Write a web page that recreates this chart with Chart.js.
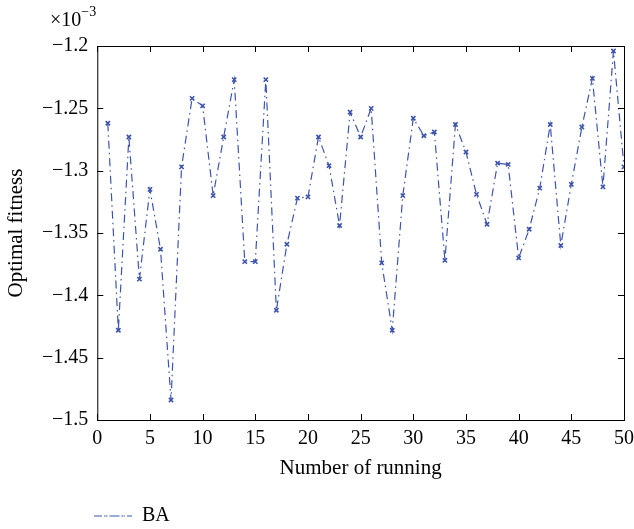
<!DOCTYPE html>
<html>
<head>
<meta charset="utf-8">
<script src="https://cdn.jsdelivr.net/npm/chart.js@4/dist/chart.umd.min.js"></script>
<style>
  html, body { margin: 0; padding: 0; background: #fff; }
  #wrap { width: 634px; height: 529px; }
</style>
</head>
<body>
<div id="wrap"><canvas id="fitnessChart"></canvas></div>
<script>
// runs 1..50
const runs = Array.from({ length: 50 }, (_, i) => i + 1);

// optimal fitness, in units of 1e-3
const baFitness = [
    -1.262, -1.428, -1.273, -1.387, -1.315, -1.363, -1.484, -1.297, -1.242, -1.248,
    -1.320, -1.273, -1.227, -1.373, -1.373, -1.227, -1.412, -1.359, -1.322, -1.321,
    -1.273, -1.296, -1.344, -1.253, -1.273, -1.250, -1.374, -1.428, -1.320, -1.258,
    -1.272, -1.269, -1.372, -1.263, -1.285, -1.319, -1.343, -1.294, -1.295, -1.370,
    -1.347, -1.314, -1.263, -1.360, -1.311, -1.265, -1.226, -1.313, -1.204, -1.297
];

const xTicks = [0, 5, 10, 15, 20, 25, 30, 35, 40, 45, 50];
const yTicks = [-1.5, -1.45, -1.4, -1.35, -1.3, -1.25, -1.2];

const serif = "'Liberation Serif', 'DejaVu Serif', serif";
const lineColor = '#3d54ae';

// box + inward ticks on all four sides, plus the exponent label
const frameTicks = {
    id: 'frameTicks',
    afterLayout(chart) {
        // push the legend in line with the plot's left edge
        if (chart.legend) {
            chart.legend.left += 84;
            chart.legend.right += 84;
        }
    },
    afterDraw(chart) {
        const { ctx, chartArea: a, scales } = chart;
        const len = 6;
        ctx.save();
        ctx.strokeStyle = '#000';
        ctx.lineWidth = 1;
        ctx.strokeRect(a.left + 0.5, a.top + 0.5, a.right - a.left, a.bottom - a.top);
        ctx.beginPath();
        for (let t of xTicks) {
            let px = Math.round(scales.x.getPixelForValue(t)) + 0.5;
            ctx.moveTo(px, a.bottom); ctx.lineTo(px, a.bottom - len);
            ctx.moveTo(px, a.top); ctx.lineTo(px, a.top + len);
        }
        for (let t of yTicks) {
            let py = Math.round(scales.y.getPixelForValue(t)) + 0.5;
            ctx.moveTo(a.left, py); ctx.lineTo(a.left + len, py);
            ctx.moveTo(a.right, py); ctx.lineTo(a.right - len, py);
        }
        ctx.stroke();

        ctx.fillStyle = '#000';
        ctx.textBaseline = 'alphabetic';
        ctx.font = '20px ' + serif;
        ctx.fillText('\u00d710', 50, 26);
        let w = ctx.measureText('\u00d710').width;
        ctx.font = '14px ' + serif;
        ctx.fillText('\u22123', 50 + w, 16);
        ctx.restore();
    }
};

new Chart(document.getElementById('fitnessChart'), {
    type: 'line',
    data: {
        labels: runs,
        datasets: [{
            label: 'BA',
            data: runs.map((r, i) => ({ x: r, y: baFitness[i] })),
            borderColor: lineColor,
            backgroundColor: 'rgba(0,0,0,0)',
            borderWidth: 1.2,
            borderDash: [8, 4, 1.5, 4],
            pointStyle: 'crossRot',
            pointRadius: 3,
            pointBorderWidth: 1.6,
            pointBorderColor: lineColor,
            tension: 0,
        }]
    },
    options: {
        responsive: true,
        maintainAspectRatio: false,
        animation: false,
        layout: { padding: { left: 6, right: 0, top: 46, bottom: -7 } },
        scales: {
            x: {
                type: 'linear',
                min: 0,
                max: 50,
                afterBuildTicks: (scale) => { scale.ticks = xTicks.map(v => ({ value: v })); },
                afterFit: (scale) => { scale.paddingRight = 10; },
                grid: { display: false, drawTicks: false },
                border: { display: false },
                ticks: { color: '#000', font: { family: serif, size: 20, lineHeight: 0.8 }, padding: 11, maxRotation: 0 },
                title: { display: true, text: 'Number of running', color: '#000', font: { family: serif, size: 21, lineHeight: 1.0 }, padding: { top: 0, bottom: 23 } }
            },
            y: {
                min: -1.5,
                max: -1.2,
                afterBuildTicks: (scale) => { scale.ticks = yTicks.map(v => ({ value: v })); },
                grid: { display: false, drawTicks: false },
                border: { display: false },
                ticks: {
                    color: '#000',
                    font: { family: serif, size: 20 },
                    padding: 9,
                    callback: (v) => String(Math.round(v * 100) / 100).replace('-', '\u2212')
                },
                title: { display: true, text: 'Optimal fitness', color: '#000', font: { family: serif, size: 21, lineHeight: 1.0 }, padding: { top: 0, bottom: 6 } }
            }
        },
        plugins: {
            legend: {
                position: 'bottom',
                align: 'start',
                labels: {
                    color: '#000',
                    font: { family: serif, size: 20 },
                    boxWidth: 38,
                    boxHeight: 0,
                    padding: 4
                }
            },
            tooltip: { enabled: false }
        }
    },
    plugins: [frameTicks]
});
</script>
</body>
</html>
